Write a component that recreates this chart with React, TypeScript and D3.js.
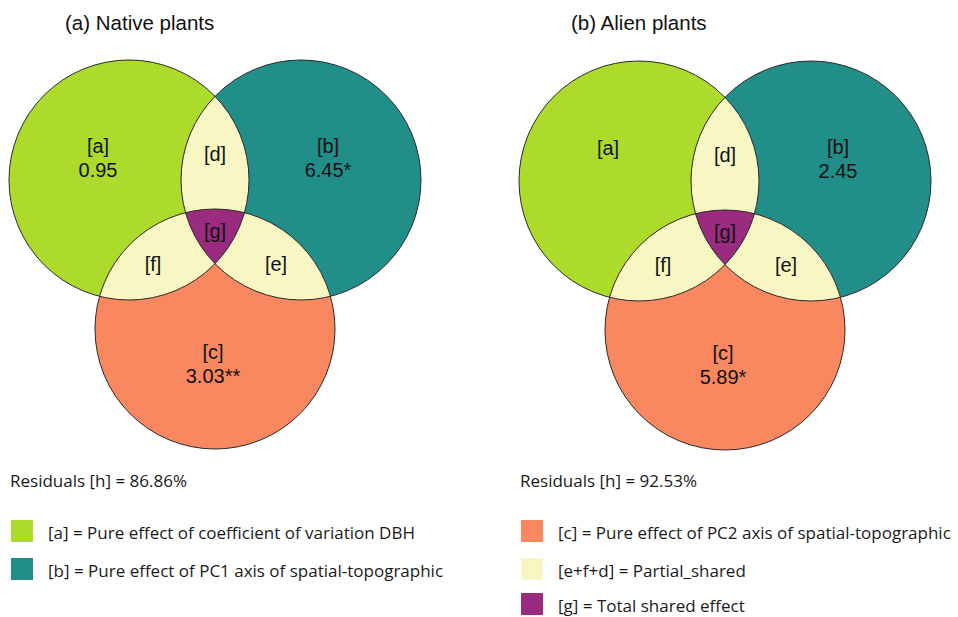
import React from "react";
import * as d3 from "d3";

const panelTitles = ["(a) Native plants", "(b) Alien plants"];
const setNames = ["A", "B", "C"];
const regionLabels = ["[a]", "[b]", "[c]", "[d]", "[e]", "[f]", "[g]"];
const nativeValues = ["0.95", "6.45*", "3.03**", "", "", "", ""];
const alienValues = ["", "2.45", "5.89*", "", "", "", ""];
const residualValues = [86.86, 92.53];
const legendLeft = [
  { key: "a", text: "[a] = Pure effect of coefficient of variation DBH" },
  { key: "b", text: "[b] = Pure effect of PC1 axis of spatial-topographic" },
];
const legendRight = [
  { key: "c", text: "[c] = Pure effect of PC2 axis of spatial-topographic" },
  { key: "shared", text: "[e+f+d] = Partial_shared" },
  { key: "g", text: "[g] = Total shared effect" },
];

const colors: Record<string, string> = {
  a: "#ADDB2C",
  b: "#218E8A",
  c: "#F9875F",
  shared: "#F8F7C3",
  g: "#9A2B7E",
};

// geometry (layout)
const R = 120;
const centersRel: Record<string, [number, number]> = {
  A: [-86, 0],
  B: [86, 0],
  C: [0, 149],
};
// label anchor offsets relative to panel origin (center between A and B)
const labelPos: [number, number][] = [
  [-117, -33], // a
  [113, -33], // b
  [-2, 173], // c
  [0, -26], // d
  [61, 84], // e
  [-62, 84], // f
  [0, 51], // g
];
const legendY = [520, 558, 593];

const panels = [
  { title: panelTitles[0], values: nativeValues, resid: residualValues[0], ox: 215, oy: 180, tX: 65, legend: legendLeft, lx: 11, tx: 48 },
  { title: panelTitles[1], values: alienValues, resid: residualValues[1], ox: 725, oy: 181, tX: 571, legend: legendRight, lx: 521, tx: 558 },
];

const fmt = d3.format(".2f");

function Venn({ p, idx }: { p: (typeof panels)[number]; idx: number }) {
  const x = d3.scaleLinear().domain([0, 1]).range([p.ox, p.ox + 1]);
  const y = d3.scaleLinear().domain([0, 1]).range([p.oy, p.oy + 1]);
  const c = (k: string) => ({ cx: x(centersRel[k][0]), cy: y(centersRel[k][1]) });
  const id = (k: string) => `clip-${idx}-${k}`;
  const fill: Record<string, string> = { A: colors.a, B: colors.b, C: colors.c };
  return (
    <g>
      <defs>
        {setNames.map((k) => (
          <clipPath key={k} id={id(k)}>
            <circle {...c(k)} r={R} />
          </clipPath>
        ))}
        <clipPath id={id("AB")} clipPath={`url(#${id("A")})`}>
          <circle {...c("B")} r={R} />
        </clipPath>
      </defs>
      {setNames.map((k) => (
        <circle key={k} {...c(k)} r={R} fill={fill[k]} />
      ))}
      <circle {...c("B")} r={R} fill={colors.shared} clipPath={`url(#${id("A")})`} />
      <circle {...c("C")} r={R} fill={colors.shared} clipPath={`url(#${id("A")})`} />
      <circle {...c("C")} r={R} fill={colors.shared} clipPath={`url(#${id("B")})`} />
      <circle {...c("C")} r={R} fill={colors.g} clipPath={`url(#${id("AB")})`} />
      {setNames.map((k) => (
        <circle key={"s" + k} {...c(k)} r={R} fill="none" stroke="#2a2a2a" strokeWidth={1} />
      ))}
      <text x={p.tX} y={30} fontFamily="'Liberation Sans', Arial, sans-serif" fontSize={20.5} fill="#111">
        {p.title}
      </text>
      {regionLabels.map((lab, i) => {
        const v = p.values[i];
        const [dx, dy] = labelPos[i];
        return (
          <text key={lab} x={x(dx)} y={y(dy)} textAnchor="middle" fontFamily="'Liberation Sans', Arial, sans-serif" fontSize={20} fill="#111">
            <tspan x={x(dx)} dy={v ? "0.3em" : "0.35em"}>{lab}</tspan>
            {v ? (
              <tspan x={x(dx)} dy="1.2em">{v}</tspan>
            ) : null}
          </text>
        );
      })}
    </g>
  );
}

export default function App() {
  const font = "'Open Sans', 'Noto Sans', sans-serif";
  return (
    <svg width={958} height={617} style={{ position: "absolute", left: 0, top: 0, background: "#fff" }}>
      <rect width={958} height={617} fill="#fff" />
      {panels.map((p, i) => (
        <Venn key={i} p={p} idx={i} />
      ))}
      {panels.map((p, i) => (
        <g key={"leg" + i} fontFamily={font} fontSize={17} fill="#1a1a1a">
          <text x={p.lx - 1} y={487}>{`Residuals [h] = ${fmt(p.resid)}%`}</text>
          {p.legend.map((l, j) => (
            <g key={l.key}>
              <rect x={p.lx} y={legendY[j]} width={22} height={22} fill={colors[l.key]} />
              <text x={p.tx} y={legendY[j] + 19}>{l.text}</text>
            </g>
          ))}
        </g>
      ))}
    </svg>
  );
}
